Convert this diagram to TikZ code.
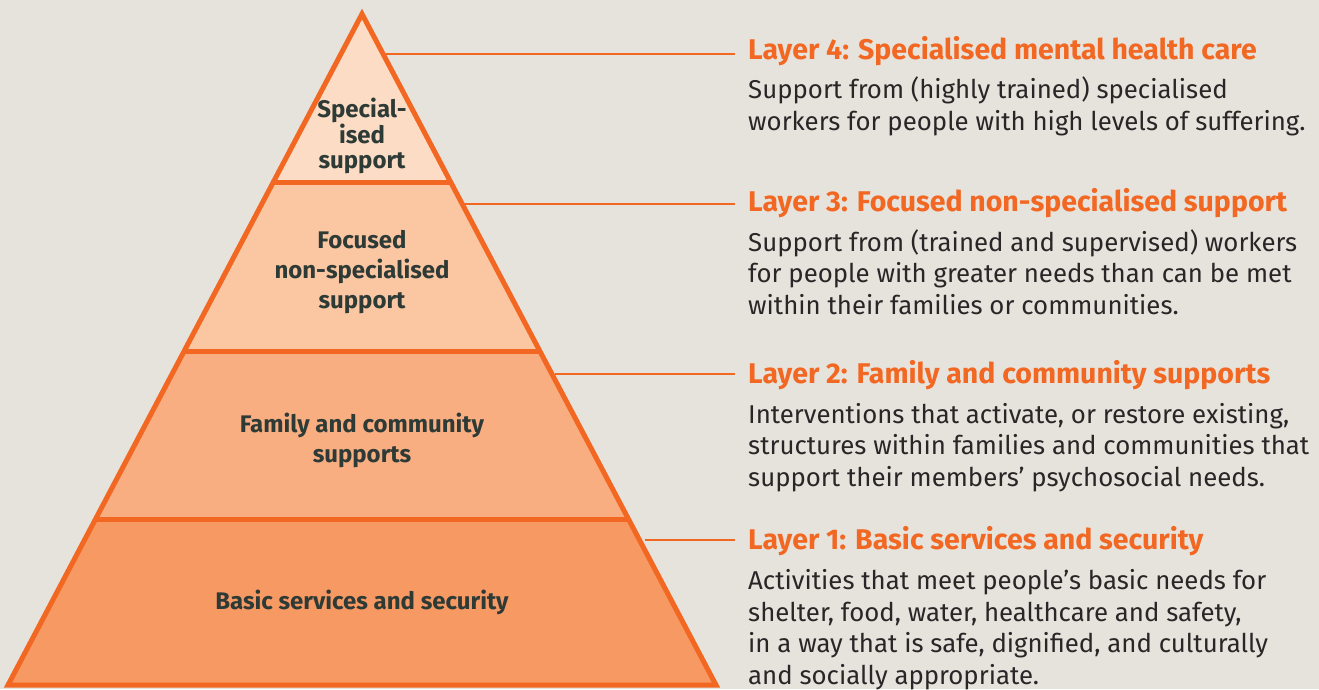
\documentclass[tikz,border=0pt]{standalone}
\usepackage{fontspec}
\setmainfont{Fira Sans}
\usetikzlibrary{calc}
\definecolor{bg}{HTML}{E6E3DD}
\definecolor{orng}{HTML}{F26722}
\definecolor{band4}{HTML}{FDDCC5}
\definecolor{band3}{HTML}{FBC6A2}
\definecolor{band2}{HTML}{F9AE82}
\definecolor{band1}{HTML}{F79963}
\definecolor{lbltxt}{HTML}{2D3A36}
\definecolor{bodytxt}{HTML}{2A2627}
\tikzset{
  x=1pt, y=-1pt,
  outline/.style={draw=orng, line width=5pt, line join=miter},
  connector/.style={draw=orng, line width=2pt},
  lbl/.style={text=lbltxt, font=\bfseries\fontsize{24}{30}\selectfont, align=center, inner sep=0pt, anchor=base},
  lbltop/.style={lbl, font=\bfseries\fontsize{24}{24.5}\selectfont},
  heading/.style={text=orng, font=\bfseries\fontsize{28.5}{30}\selectfont, anchor=base west, inner sep=0pt},
  bodytext/.style={text=bodytxt, font=\fontsize{25.8}{31.7}\selectfont, align=left, anchor=base west, inner sep=0pt},
}
\begin{document}
\begin{tikzpicture}
\useasboundingbox (0,0) rectangle (1319,689);
\fill[bg] (0,0) rectangle (1319,689);
% pyramid geometry
\coordinate (apex) at (362,14);
\coordinate (bl) at (8,685);
\coordinate (br) at (716,685);
\coordinate (l3) at (273.2,182); \coordinate (r3) at (450.8,182);
\coordinate (l2) at (184,351);   \coordinate (r2) at (540,351);
\coordinate (l1) at (95.2,519);  \coordinate (r1) at (628.8,519);
% bands
\fill[band4] (apex) -- (r3) -- (l3) -- cycle;
\fill[band3] (l3) -- (r3) -- (r2) -- (l2) -- cycle;
\fill[band2] (l2) -- (r2) -- (r1) -- (l1) -- cycle;
\fill[band1] (l1) -- (r1) -- (br) -- (bl) -- cycle;
\draw[outline] (apex) -- (br) -- (bl) -- cycle;
\draw[outline] (l3) -- (r3);
\draw[outline] (l2) -- (r2);
\draw[outline] (l1) -- (r1);
% pyramid labels (anchored at last baseline)
\node[lbltop] (p4) at (362,168) {Special-\\ised\\support};
\node[lbl] (p3) at (362,308) {Focused\\non-specialised\\support};
\node[lbl] (p2) at (362,462) {Family and community\\supports};
\node[lbl] (p1) at (362,609) {Basic services and security};
% headings
\node[heading] (h4) at (748,59) {Layer 4: Specialised mental health care};
\node[heading] (h3) at (748,211.5) {Layer 3: Focused non-specialised support};
\node[heading] (h2) at (748,383.5) {Layer 2: Family and community supports};
\node[heading] (h1) at (748,549) {Layer 1: Basic services and security};
% body texts
\node[bodytext] (b4) at (748,130.5) {Support from (highly trained) specialised\\workers for people with high levels of suffering.};
\node[bodytext] (b3) at (748,314.5) {Support from (trained and supervised) workers\\for people with greater needs than can be met\\within their families or communities.};
\node[bodytext] (b2) at (748,486.5) {Interventions that activate, or restore existing,\\structures within families and communities that\\support their members’ psychosocial needs.};
\node[bodytext] (b1) at (748,684.5) {Activities that meet people’s basic needs for\\shelter, food, water, healthcare and safety,\\in a way that is safe, dignified, and culturally\\and socially appropriate.};
% connectors
\coordinate (s4) at (385.5,54);  \coordinate (e4) at (735,54);
\coordinate (s3) at (465,204);   \coordinate (e3) at (735,204);
\coordinate (s2) at (555,374);   \coordinate (e2) at (735,374);
\coordinate (s1) at (644.5,540); \coordinate (e1) at (735,540);
\draw[connector] (s4) -- (e4);
\draw[connector] (s3) -- (e3);
\draw[connector] (s2) -- (e2);
\draw[connector] (s1) -- (e1);
\end{tikzpicture}
\end{document}
